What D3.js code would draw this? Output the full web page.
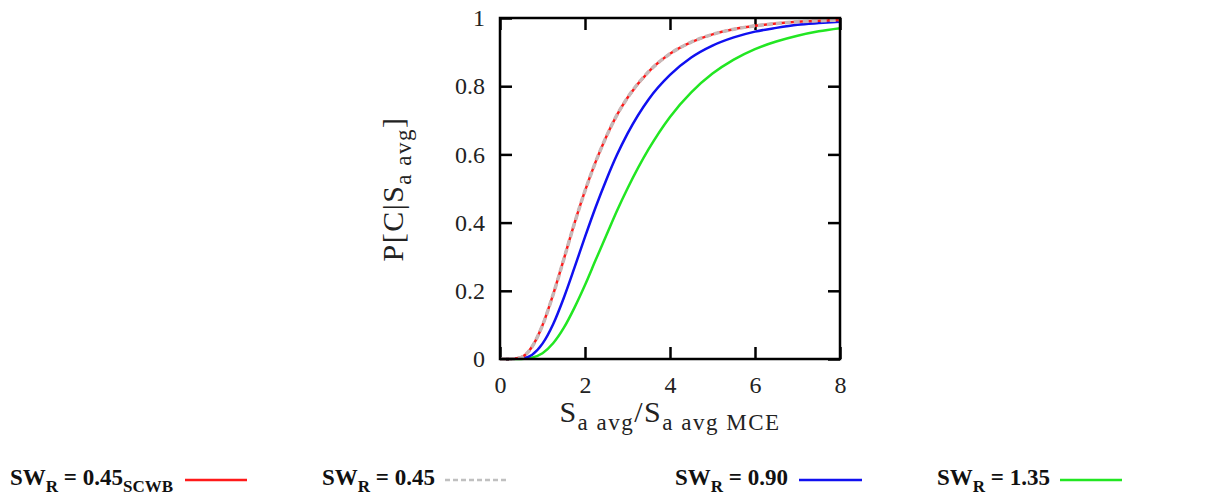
<!DOCTYPE html>
<html><head><meta charset="utf-8">
<script src="https://cdn.jsdelivr.net/npm/d3@7"></script>
<style>body{margin:0;background:#fff}svg{display:block}</style>
</head><body><svg id="c" width="1217" height="498"></svg>
<script>
// ---- data ----
const xValues   = [0, 0.25, 0.5, 0.75, 1, 1.25, 1.5, 1.75, 2, 2.25, 2.5, 2.75, 3, 3.5, 4, 4.5, 5, 5.5, 6, 6.5, 7, 7.5, 8];
const swr045scwb = [0, 0.0001, 0.005, 0.035, 0.099, 0.189, 0.292, 0.397, 0.493, 0.578, 0.652, 0.715, 0.766, 0.843, 0.895, 0.929, 0.952, 0.967, 0.977, 0.984, 0.989, 0.992, 0.994];
const swr045     = [0, 0.0001, 0.005, 0.035, 0.099, 0.189, 0.292, 0.397, 0.493, 0.578, 0.652, 0.715, 0.766, 0.843, 0.895, 0.929, 0.952, 0.967, 0.977, 0.984, 0.989, 0.992, 0.994];
const swr090     = [0, 0, 0.0012, 0.012, 0.045, 0.102, 0.179, 0.267, 0.358, 0.445, 0.525, 0.598, 0.661, 0.762, 0.833, 0.884, 0.919, 0.943, 0.960, 0.971, 0.980, 0.985, 0.989];
const swr135     = [0, 0, 0.0003, 0.004, 0.017, 0.046, 0.091, 0.150, 0.217, 0.290, 0.362, 0.434, 0.500, 0.616, 0.710, 0.782, 0.837, 0.878, 0.909, 0.931, 0.948, 0.961, 0.970];
const xTicks = [0, 2, 4, 6, 8];
const xTickLabels = ["0", "2", "4", "6", "8"];
const yTicks = [0, 0.2, 0.4, 0.6, 0.8, 1];
const yTickLabels = ["0", "0.2", "0.4", "0.6", "0.8", "1"];
const legendValues = ["0.45", "0.45", "0.90", "1.35"];
const legendSubs = ["SCWB", "", "", ""];

const svg = d3.select("#c");
const L = 500, R = 840, T = 18, B = 359;
const x = d3.scaleLinear().domain([0, 8]).range([L, R]);
const y = d3.scaleLinear().domain([0, 1]).range([B, T]);
const serif = "'Liberation Serif', 'DejaVu Serif', serif";
const tk = 12;

// axes (inward ticks, mirrored)
const gB = svg.append("g").attr("transform", `translate(0,${B})`)
  .call(d3.axisBottom(x).tickValues(xTicks).tickSize(-tk).tickFormat((d,i)=>xTickLabels[i]));
gB.selectAll("text").attr("y", 34).attr("dy", 0);
const gT = svg.append("g").attr("transform", `translate(0,${T})`)
  .call(d3.axisTop(x).tickValues(xTicks).tickSize(-tk).tickFormat(""));
const gL = svg.append("g").attr("transform", `translate(${L},0)`)
  .call(d3.axisLeft(y).tickValues(yTicks).tickSize(-tk).tickPadding(15).tickFormat((d,i)=>yTickLabels[i]));
const gR = svg.append("g").attr("transform", `translate(${R},0)`)
  .call(d3.axisRight(y).tickValues(yTicks).tickSize(-tk).tickFormat(""));
[gB, gT, gL, gR].forEach(g => {
  g.select(".domain").remove();
  g.selectAll(".tick line").attr("stroke", "#000").attr("stroke-width", 2.5);
  g.selectAll("text").attr("font-family", serif).attr("font-size", 24).attr("fill", "#222");
});

// curves
const lineGen = ys => d3.line().x((d,i)=>x(xValues[i])).y(d=>y(d)).curve(d3.curveMonotoneX)(ys);
svg.append("path").attr("d", lineGen(swr135)).attr("fill","none").attr("stroke","#22e622").attr("stroke-width",2.5);
svg.append("path").attr("d", lineGen(swr090)).attr("fill","none").attr("stroke","#1010f0").attr("stroke-width",2.5);
svg.append("path").attr("d", lineGen(swr045scwb)).attr("fill","none").attr("stroke","#ff1a1a").attr("stroke-width",2.5);
svg.append("path").attr("d", lineGen(swr045)).attr("fill","none").attr("stroke","#c8b8b8").attr("stroke-width",3.5).attr("stroke-dasharray","6,3");

// frame
svg.append("rect").attr("x", L).attr("y", T).attr("width", R-L).attr("height", B-T)
  .attr("fill","none").attr("stroke","#000").attr("stroke-width",2.5);

// axis titles
const yl = svg.append("text").attr("transform", "translate(403,189) rotate(-90)")
  .attr("text-anchor","middle").attr("font-family",serif).attr("font-size",30).attr("fill","#222")
  .attr("letter-spacing", 1.5);
yl.append("tspan").text("P[C|S");
yl.append("tspan").attr("font-size",23).attr("dy",8).text("a avg");
yl.append("tspan").attr("dy",-8).text("]");

const xl = svg.append("text").attr("x", 670).attr("y", 422)
  .attr("text-anchor","middle").attr("font-family",serif).attr("font-size",30).attr("fill","#222")
  .attr("letter-spacing", 1.5);
xl.append("tspan").text("S");
xl.append("tspan").attr("font-size",23).attr("dy",8).text("a avg");
xl.append("tspan").attr("dy",-8).text("/S");
xl.append("tspan").attr("font-size",23).attr("dy",8).text("a avg MCE");

// legend
const legX = [10, 322, 675, 937];
const lineX = [[185,247],[445,507],[799,862],[1060,1122]];
const colors = ["#ff1a1a", "#c0c0c0", "#1010f0", "#22e622"];
const dashes = [null, "5,3", null, null];
legendValues.forEach((v,i) => {
  const t = svg.append("text").attr("x", legX[i]).attr("y", 485)
    .attr("font-family", serif).attr("font-weight","bold").attr("font-size", 23).attr("fill","#111");
  t.append("tspan").text("SW");
  t.append("tspan").attr("font-size",17).attr("dy",7).text("R");
  t.append("tspan").attr("dy",-7).text(" = " + v);
  if (legendSubs[i]) t.append("tspan").attr("font-size",17).attr("dy",7).text(legendSubs[i]);
  const ln = svg.append("line").attr("x1", lineX[i][0]).attr("x2", lineX[i][1]).attr("y1", 480).attr("y2", 480)
    .attr("stroke", colors[i]).attr("stroke-width", 2.5);
  if (dashes[i]) ln.attr("stroke-dasharray", dashes[i]);
});
</script></body></html>
